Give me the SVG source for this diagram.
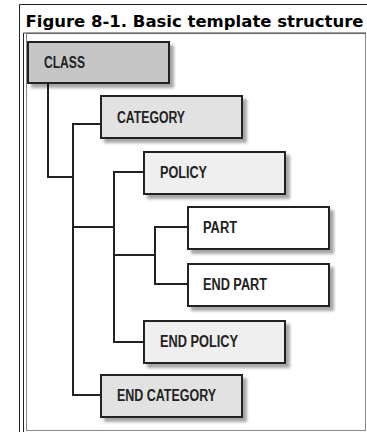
<svg xmlns="http://www.w3.org/2000/svg" width="367" height="432" viewBox="0 0 367 432">
  <defs>
    <filter id="sh" x="-10%" y="-20%" width="130%" height="160%">
      <feGaussianBlur in="SourceAlpha" stdDeviation="1.6"/>
      <feOffset dx="4" dy="4" result="b"/>
      <feComponentTransfer><feFuncA type="linear" slope="0.35"/></feComponentTransfer>
      <feMerge><feMergeNode/><feMergeNode in="SourceGraphic"/></feMerge>
    </filter>
  </defs>
  <style>
    .box{stroke:#222;stroke-width:2}
    .lbl{font-family:"Liberation Sans",Arial,sans-serif;font-weight:bold;font-size:16px;fill:#222}
    .con{fill:none;stroke:#222;stroke-width:2}
    .title{font-family:"DejaVu Sans",Verdana,sans-serif;font-weight:bold;font-size:16px;fill:#000}
  </style>
  <rect width="367" height="432" fill="#fff"/>
  <!-- frames -->
  <path d="M19.5 432 V4.5 H367" fill="none" stroke="#222" stroke-width="1"/>
  <path d="M23.5 432 V33" fill="none" stroke="#222" stroke-width="1"/>
  <rect x="26.5" y="33.5" width="339" height="397" fill="none" stroke="#888" stroke-width="1"/>
  <path d="M23.5 33 H366" fill="none" stroke="#444" stroke-width="1"/>
  <text class="title" x="25.5" y="26.5" textLength="338" lengthAdjust="spacingAndGlyphs">Figure 8-1. Basic template structure</text>

  <g id="connectors">
    <path class="con" d="M48 83 V177 H73"/>
    <path class="con" d="M101 124 H73 V395 H101"/>
    <path class="con" d="M73 227 H114"/>
    <path class="con" d="M144 172 H114 V342 H144"/>
    <path class="con" d="M114 255 H155"/>
    <path class="con" d="M188 227 H155 V284 H188"/>
  </g>

  <g id="class">
    <rect class="box" x="28" y="42" width="141" height="41" fill="#c6c6c6" filter="url(#sh)"/>
    <text class="lbl" x="44" y="68" textLength="41" lengthAdjust="spacingAndGlyphs">CLASS</text>
  </g>
  <g id="category">
    <rect class="box" x="101" y="96" width="141" height="42" fill="#e2e2e2" filter="url(#sh)"/>
    <text class="lbl" x="117" y="123" textLength="68" lengthAdjust="spacingAndGlyphs">CATEGORY</text>
  </g>
  <g id="policy">
    <rect class="box" x="144" y="152" width="141" height="42" fill="#efefef" filter="url(#sh)"/>
    <text class="lbl" x="160" y="178" textLength="47" lengthAdjust="spacingAndGlyphs">POLICY</text>
  </g>
  <g id="part">
    <rect class="box" x="188" y="207" width="141" height="42" fill="#fff" filter="url(#sh)"/>
    <text class="lbl" x="203" y="233" textLength="34" lengthAdjust="spacingAndGlyphs">PART</text>
  </g>
  <g id="end-part">
    <rect class="box" x="188" y="264" width="141" height="42" fill="#fff" filter="url(#sh)"/>
    <text class="lbl" x="203" y="290" textLength="64" lengthAdjust="spacingAndGlyphs">END PART</text>
  </g>
  <g id="end-policy">
    <rect class="box" x="144" y="321" width="141" height="42" fill="#efefef" filter="url(#sh)"/>
    <text class="lbl" x="160" y="347" textLength="78" lengthAdjust="spacingAndGlyphs">END POLICY</text>
  </g>
  <g id="end-category">
    <rect class="box" x="101" y="375" width="141" height="42" fill="#e2e2e2" filter="url(#sh)"/>
    <text class="lbl" x="117" y="401" textLength="99" lengthAdjust="spacingAndGlyphs">END CATEGORY</text>
  </g>
</svg>
